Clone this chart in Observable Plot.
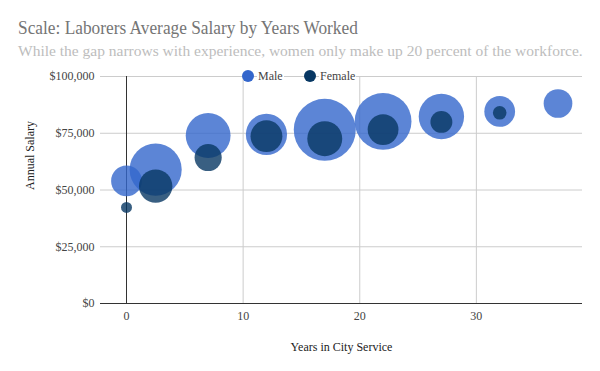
<!DOCTYPE html>
<html>
<head>
<meta charset="utf-8">
<script src="https://cdn.jsdelivr.net/npm/d3@7"></script>
<script src="https://cdn.jsdelivr.net/npm/@observablehq/plot@0.6"></script>
<style>
  html, body { margin: 0; padding: 0; background: #fff; }
  #wrap { position: relative; width: 600px; height: 371px; font-family: "Liberation Serif", "Times New Roman", serif; }
  #title { position: absolute; left: 18px; top: 17px; font-size: 19.5px; color: #757575; white-space: nowrap; transform: scaleX(0.888); transform-origin: 0 0; }
  #subtitle { position: absolute; left: 18px; top: 42px; font-size: 15.5px; color: #bdbdbd; white-space: nowrap; }
  #chart { position: absolute; left: 0; top: 60px; }
  #legend { position: absolute; left: 0; top: 0; width: 600px; height: 0; font-size: 12px; color: #444; }
  .lg-dot { position: absolute; width: 12px; height: 12px; border-radius: 50%; }
  .lg-txt { position: absolute; background: #fff; line-height: 14px; padding: 0 1px; white-space: nowrap; }
</style>
</head>
<body>
<div id="wrap">
  <div id="title"></div>
  <div id="subtitle"></div>
  <div id="chart"></div>
  <div id="legend"></div>
</div>
<script>
const titleText = "Scale: Laborers Average Salary by Years Worked";
const subtitleText = "While the gap narrows with experience, women only make up 20 percent of the workforce.";
const xLabel = "Years in City Service";
const yLabel = "Annual Salary";

const seriesNames = ["Male", "Female"];
const seriesColors = ["#3366cc", "#073763"];

const maleYears = [0, 2.5, 7, 12, 17, 22, 27, 32, 37];
const maleSalary = [54000, 59000, 74000, 74500, 76500, 80200, 82400, 84600, 88100];
const maleCount = [41, 82, 68, 61, 101, 91, 69, 41, 37];

const femaleYears = [0, 2.5, 7, 12, 17, 22, 27, 32];
const femaleSalary = [42300, 51700, 64300, 73700, 72600, 76600, 80000, 84000];
const femaleCount = [3, 46, 34, 43, 49, 41, 24, 8];

const xTicks = [0, 10, 20, 30];
const yTicks = [0, 25000, 50000, 75000, 100000];

const male = maleYears.map((x, i) => ({series: "Male", years: x, salary: maleSalary[i], count: maleCount[i]}));
const female = femaleYears.map((x, i) => ({series: "Female", years: x, salary: femaleSalary[i], count: femaleCount[i]}));

document.getElementById("title").textContent = titleText;
document.getElementById("subtitle").textContent = subtitleText;

const fmt = d3.format(",");

const chart = Plot.plot({
  width: 600,
  height: 311,
  marginTop: 16,
  marginBottom: 68,
  marginLeft: 100,
  marginRight: 18,
  style: {fontFamily: "'Liberation Serif', 'Times New Roman', serif", fontSize: "12px", color: "#444", background: "transparent"},
  x: {domain: [-2.23, 39.1]},
  y: {domain: [0, 100000]},
  r: {type: "linear", domain: [3, 101], range: [5.5, 31]},
  color: {domain: seriesNames, range: seriesColors},
  marks: [
    Plot.gridX(xTicks.filter(d => d !== 0), {stroke: "#cccccc", strokeOpacity: 1}),
    Plot.gridY(yTicks.filter(d => d !== 0), {stroke: "#cccccc", strokeOpacity: 1}),
    Plot.ruleY([0], {stroke: "#333"}),
    Plot.ruleX([0], {y1: 0, y2: 100000, stroke: "#333"}),
    Plot.axisX(xTicks, {tickSize: 0, tickPadding: 8, label: null, fill: "#444"}),
    Plot.axisY(yTicks, {tickSize: 0, tickPadding: 6, label: null, tickFormat: d => "$" + fmt(d), fill: "#444"}),
    Plot.text([xLabel], {frameAnchor: "bottom", dy: 44, fill: "#222", lineAnchor: "middle"}),
    Plot.text([yLabel], {frameAnchor: "left", dx: -70, rotate: -90, fill: "#222"}),
    Plot.dot(male, {x: "years", y: "salary", r: "count", fill: "series", fillOpacity: 0.8, stroke: "none"}),
    Plot.dot(female, {x: "years", y: "salary", r: "count", fill: "series", fillOpacity: 0.8, stroke: "none"})
  ]
});
document.getElementById("chart").appendChild(chart);

// legend
const legend = document.getElementById("legend");
const legendPos = [{dot: 248, txt: 257}, {dot: 310, txt: 319}];
seriesNames.forEach((name, i) => {
  const dot = document.createElement("div");
  dot.className = "lg-dot";
  dot.style.background = seriesColors[i];
  dot.style.left = (legendPos[i].dot - 6) + "px";
  dot.style.top = (76 - 6) + "px";
  legend.appendChild(dot);
  const t = document.createElement("div");
  t.className = "lg-txt";
  t.textContent = name;
  t.style.left = legendPos[i].txt + "px";
  t.style.top = (76 - 7) + "px";
  legend.appendChild(t);
});
</script>
</body>
</html>
